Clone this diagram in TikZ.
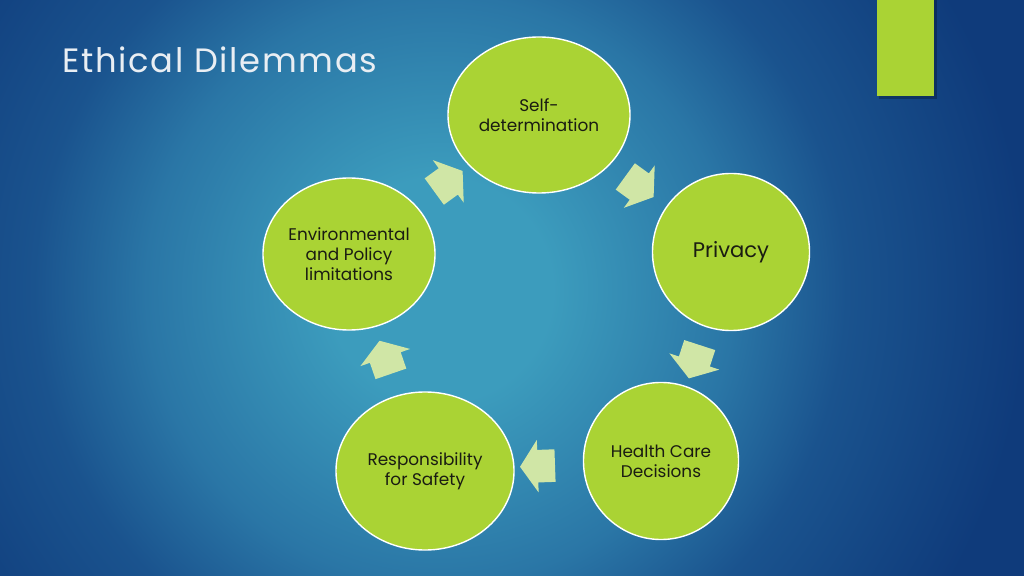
\documentclass[tikz,border=0pt]{standalone}
\usepackage{fontspec}
\setmainfont{Poppins}
\usetikzlibrary{shapes.geometric,shapes.arrows,calc}
\definecolor{limegreen}{HTML}{AAD334}
\definecolor{palearrow}{HTML}{D0E6A6}
\definecolor{darktext}{HTML}{1A1C12}
\definecolor{titlegray}{HTML}{E9EEF3}
\definecolor{glowcentre}{HTML}{3C9CBD}
\definecolor{glowmid}{HTML}{2A76A6}
\definecolor{glowdark}{HTML}{1A538E}
\definecolor{edgeblue}{HTML}{0F3B7B}
\pgfdeclareradialshading{slideglow}{\pgfpoint{0bp}{0bp}}{%
  color(0bp)=(glowcentre); color(4bp)=(glowcentre); color(10.5bp)=(glowmid);
  color(14.5bp)=(glowdark); color(21bp)=(edgeblue); color(50bp)=(edgeblue)}
\tikzset{
topicbubble/.style={ellipse, draw=white, line width=1pt, fill=limegreen, text=darktext, align=center, inner sep=0pt, font=\fontsize{12}{14}\selectfont},
cyclearrow/.style={single arrow, fill=palearrow, draw=none, inner xsep=0pt, inner ysep=0.4cm, minimum height=0.875cm, single arrow head extend=0.25cm, single arrow tip angle=112},
slidetitle/.style={anchor=base west, text=titlegray, inner sep=0pt, font=\fontsize{24}{28}\selectfont\addfontfeatures{LetterSpace=5}}
}

\begin{document}
\begin{tikzpicture}[x=0.025cm,y=-0.025cm]
\useasboundingbox (0,0) rectangle (1024,576);
% background glow
\begin{scope}
  \clip (0,0) rectangle (1024,576);
  \shade[shading=slideglow] (440,290) circle[radius=700];
\end{scope}
% accent bar
\fill[black,opacity=0.25] (879,0) rectangle (937,99);
\fill[limegreen] (877,0) rectangle (934,96);

\node[slidetitle] (title) at (62,73) {Ethical Dilemmas};

% the five topics
\node[topicbubble, minimum width=4.55cm, minimum height=3.9cm] (selfdet) at (539,115) {Self-\\determination};
\node[topicbubble, minimum width=3.925cm, minimum height=3.925cm, font=\fontsize{15}{18}\selectfont] (privacy) at (731,252) {Privacy};
\node[topicbubble, minimum width=3.875cm, minimum height=3.925cm] (healthcare) at (661,461) {Health Care\\Decisions};
\node[topicbubble, minimum width=4.45cm, minimum height=3.95cm] (safety) at (425,471) {Responsibility\\for Safety};
\node[topicbubble, minimum width=4.3cm, minimum height=3.8cm] (envpolicy) at (349,254) {Environmental\\and Policy\\limitations};

% block arrows between neighbours
\foreach \from/\to/\ang in {envpolicy/selfdet/36, selfdet/privacy/-36, privacy/healthcare/-108, healthcare/safety/182, safety/envpolicy/109}
  \node[cyclearrow, rotate=\ang] (arr-\from) at ($(\from.center)!0.5!(\to.center)$) {};
\end{tikzpicture}
\end{document}
